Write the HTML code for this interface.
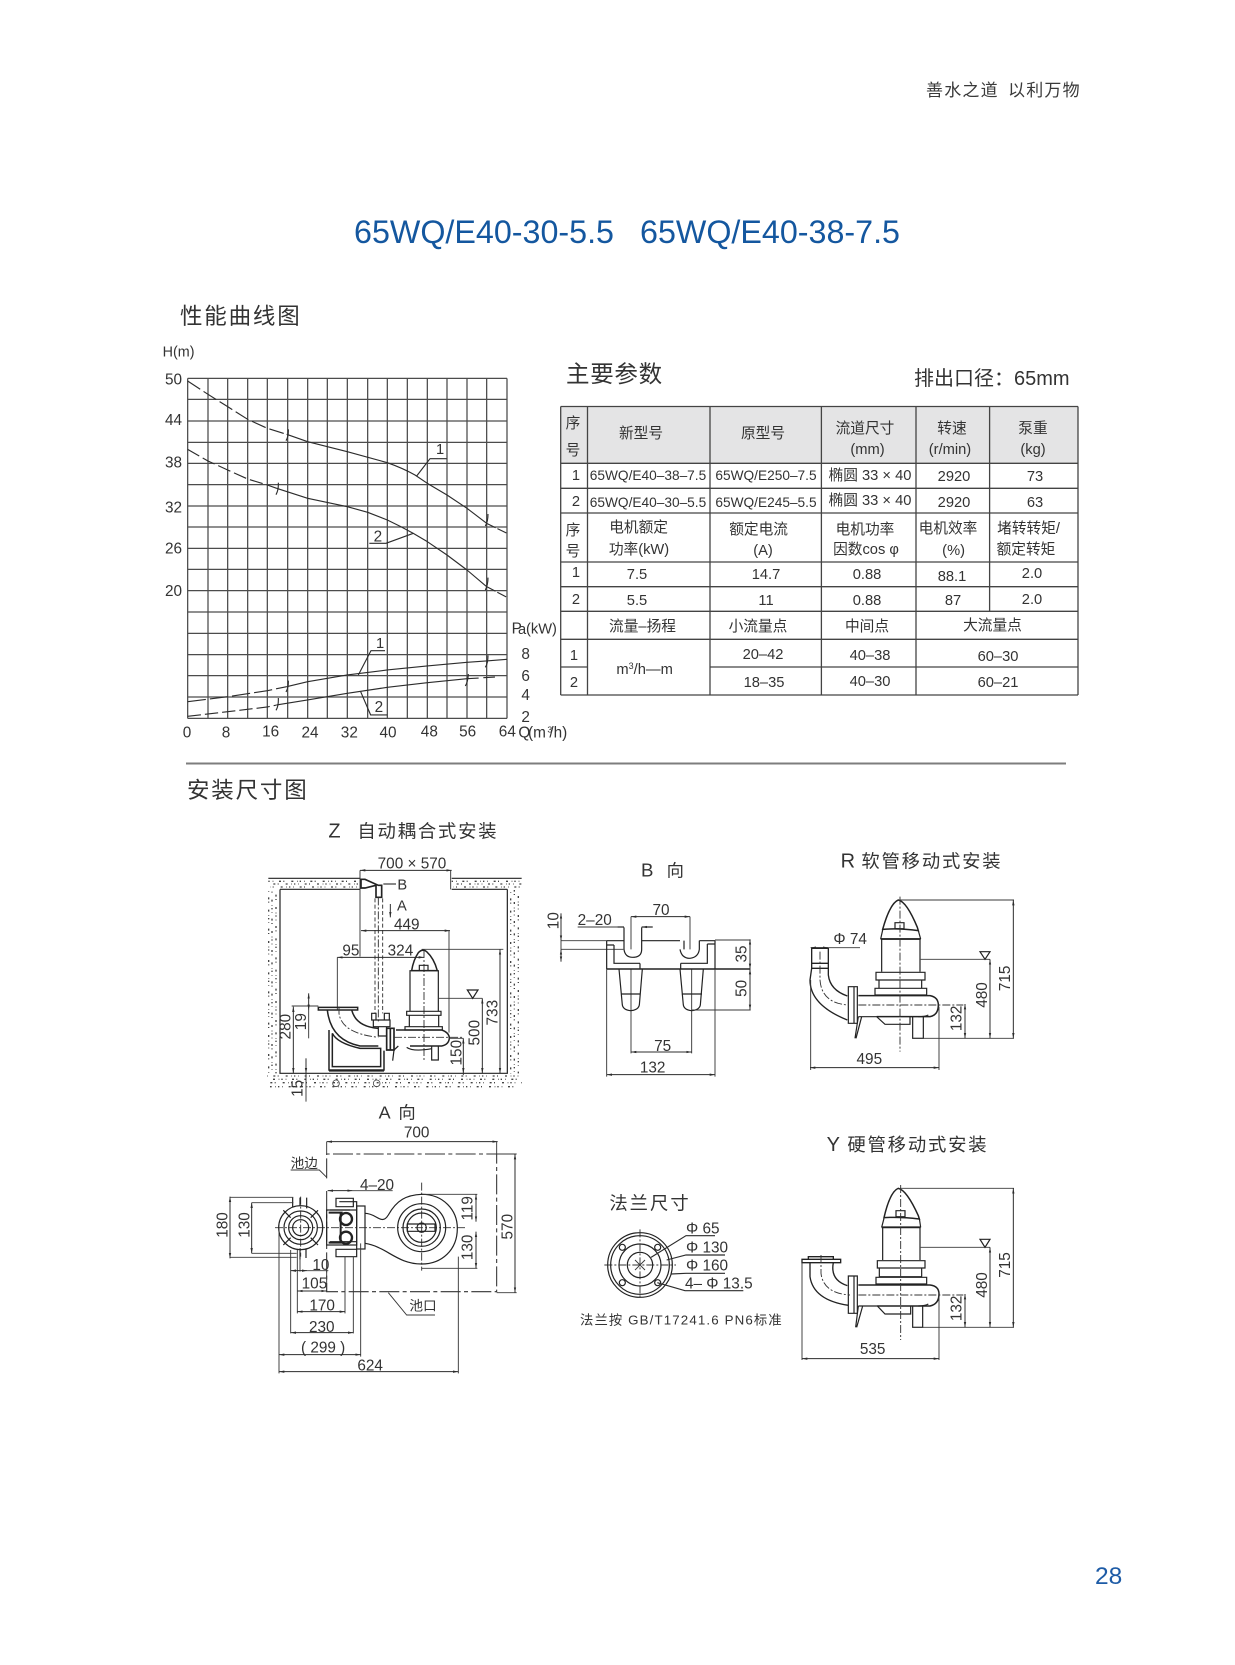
<!DOCTYPE html>
<html><head><meta charset="utf-8">
<style>
html,body{margin:0;padding:0;background:#fff;width:1235px;height:1665px;overflow:hidden}
svg{display:block}
text{font-family:"Liberation Sans","Noto Sans CJK SC",sans-serif;fill:#333}
.z text{font-size:46px}
.g{fill:none;stroke:#4c4c4c;stroke-width:3.8}
.c{fill:none;stroke:#2c2c2c;stroke-width:3.4}
.o{fill:none;stroke:#222;stroke-width:3.6}
.t{fill:none;stroke:#222;stroke-width:5.5}
.f{fill:none;stroke:#444;stroke-width:2.4}
.dash{fill:none;stroke:#333;stroke-width:2.8;stroke-dasharray:24 6 6 6}
.hid{fill:none;stroke:#333;stroke-width:2.8;stroke-dasharray:12 7}
.d{fill:none;stroke:#2c2c2c;stroke-width:3;marker-start:url(#a);marker-end:url(#a)}
.e{fill:none;stroke:#383838;stroke-width:2.8}
.sp{fill:none;stroke:#444;stroke-width:4;stroke-dasharray:4 9 2 17 6 7 3 21 6 11 2 6}
.h text{font-size:55px;letter-spacing:5.500px}
.tb text{font-size:14.700px;text-anchor:middle}
.tb .m{font-size:13.700px}
</style></head>
<body>
<svg width="1235" height="1665" viewBox="0 0 1235 1665" xmlns="http://www.w3.org/2000/svg">
<defs>
<marker id="a" markerUnits="userSpaceOnUse" markerWidth="18" markerHeight="10" refX="16" refY="5" orient="auto-start-reverse"><path d="M0 1.500L16 5L0 8.500z" fill="#2c2c2c"/></marker>
</defs>

<text x="926" y="96" style="font-size:17px;letter-spacing:1.200px;fill:#3a3a3a">善水之道</text>
<text x="1008" y="96" style="font-size:17px;letter-spacing:1.200px;fill:#3a3a3a">以利万物</text>
<text x="354" y="243" textLength="260" lengthAdjust="spacingAndGlyphs" style="font-size:32px;fill:#14579f">65WQ/E40-30-5.5</text>
<text x="640" y="243" textLength="260" lengthAdjust="spacingAndGlyphs" style="font-size:32px;fill:#14579f">65WQ/E40-38-7.5</text>
<text x="180" y="324" style="font-size:22.500px;letter-spacing:1.800px">性能曲线图</text>
<text x="566" y="382" style="font-size:23.500px;letter-spacing:.7px">主要参数</text>
<text x="914" y="385" style="font-size:20px">排出口径：65mm</text>
<line x1="186" y1="763.500" x2="1066" y2="763.500" stroke="#7d7d7d" stroke-width="2"/>
<text x="187" y="798" style="font-size:22.500px;letter-spacing:1.800px">安装尺寸图</text>
<text x="1095" y="1584" style="font-size:24.500px;fill:#1d5ba6">28</text>

<!-- chart -->
<g class="z" transform="translate(140,280) scale(.33333)">
<text x="68" y="230" style="font-size:43px">H(m)</text>
<path class="g" d="M143 295V1315M204 295V1315M263 295V1315M323 295V1315M382 295V1315M443 295V1315M503 295V1315M562 295V1315M622 295V1315M683 295V1315M742 295V1315M802 295V1315M862 295V1315M921 295V1315M981 295V1315M1040 295V1315M1101 295V1315"/>
<path class="g" d="M143 295H1101M143 358H1101M143 423H1101M143 487H1101M143 550H1101M143 614H1101M143 678H1101M143 741H1101M143 805H1101M143 868H1101M143 932H1101M143 996H1101M143 1060H1101M143 1124H1101M143 1187H1101M143 1251H1101M143 1315H1101"/>
<g class="c" stroke-linejoin="round">
<path stroke-dasharray="45 12" d="M143 303L204 343L263 380L323 418L382 445L440 463"/>
<path d="M440 463L503 485L622 515L742 548Q790 565 825 585L862 610L921 645L981 685L1040 730"/>
<path stroke-dasharray="30 6" d="M1040 730L1101 760"/>
<path stroke-dasharray="40 12" d="M143 508L204 543L263 570L323 597L382 615L410 625"/>
<path d="M410 625L503 655L622 680L683 697L742 720Q780 738 820 760L862 785L921 825L981 870L1040 920"/>
<path stroke-dasharray="30 6" d="M1040 920L1101 952"/>
<path stroke-dasharray="55 12" d="M143 1265L263 1250L382 1232L440 1220"/>
<path d="M440 1220L503 1205L622 1185L742 1170L862 1158L981 1147L1040 1143L1101 1138"/>
<path stroke-dasharray="40 12" d="M143 1309L263 1295L382 1281L410 1275"/>
<path d="M410 1275L503 1260L622 1240L742 1222L862 1208L981 1196"/>
<path stroke-dasharray="35 14" d="M981 1196L1070 1191"/>
<path d="M438 482Q446 470 445 448M408 644Q416 630 415 608M1036 738Q1044 725 1044 702M1036 930Q1044 915 1044 893M438 1236Q446 1222 445 1202M408 1291Q416 1278 415 1254M1036 1162Q1044 1150 1044 1126M976 1218Q984 1205 985 1182"/>
<path d="M830 588L870 536H920M688 790H738L820 760M655 1185L693 1112H735M662 1235L692 1305H742"/>
</g>
<text x="888" y="522" style="font-size:44px">1</text>
<text x="701" y="785" style="font-size:46px">2</text>
<text x="708" y="1104" style="font-size:44px">1</text>
<text x="704" y="1296" style="font-size:46px">2</text>
<text x="75" y="313">50</text><text x="75" y="435">44</text><text x="75" y="563">38</text><text x="75" y="698">32</text><text x="75" y="821">26</text><text x="75" y="948">20</text>
<text x="1115" y="1060">P</text><text x="1134" y="1062" style="font-size:44px">a</text><text x="1158" y="1060" style="font-size:44px">(kW)</text>
<text x="1144" y="1137">8</text><text x="1144" y="1203">6</text><text x="1144" y="1260">4</text><text x="1144" y="1326">2</text>
<g text-anchor="middle"><text x="141" y="1373">0</text><text x="258" y="1373">8</text><text x="392" y="1370">16</text><text x="510" y="1373">24</text><text x="628" y="1373">32</text><text x="744" y="1373">40</text><text x="868" y="1370">48</text><text x="983" y="1370">56</text><text x="1102" y="1370">64</text></g>
<text x="1135" y="1373">Q</text><text x="1164" y="1373">(m</text><text x="1222" y="1357" style="font-size:26px">3</text><text x="1228" y="1373">/h)</text>
</g>

<!-- table -->
<g>
<rect x="561" y="406.500" width="517" height="57" fill="#e4e4e5"/>
<g fill="none" stroke="#444" stroke-width="1.300">
<path d="M560.700 406.500H1078M560.700 463.300H1078M560.700 488.300H1078M560.700 513H1078M560.700 562H1078M560.700 586.700H1078M560.700 611.300H1078M560.700 639.300H1078M560.700 667H587.500M710 667H1078M560.700 695H1078"/>
<path d="M560.700 406.500V695M587.500 406.500V695M710 406.500V695M821.400 406.500V695M916 406.500V695M989.600 406.500V611.300M1078 406.500V695"/>
</g>
<g class="tb">
<text x="573" y="428">序</text><text x="573" y="455">号</text>
<text x="641" y="438">新型号</text><text x="763" y="438">原型号</text>
<text x="865" y="433">流道尺寸</text><text x="867.500" y="454">(mm)</text>
<text x="952" y="433">转速</text><text x="950" y="454">(r/min)</text>
<text x="1033" y="433">泵重</text><text x="1033" y="454">(kg)</text>
<text x="576" y="480">1</text><text class="m" x="648" y="480">65WQ/E40–38–7.5</text><text class="m" x="766" y="480">65WQ/E250–7.5</text><text x="870" y="480">椭圆 33 × 40</text><text x="954" y="481">2920</text><text x="1035" y="481">73</text>
<text x="576" y="506">2</text><text class="m" x="648" y="507">65WQ/E40–30–5.5</text><text class="m" x="766" y="507">65WQ/E245–5.5</text><text x="870" y="505">椭圆 33 × 40</text><text x="954" y="507">2920</text><text x="1035" y="507">63</text>
<text x="573" y="535">序</text><text x="573" y="556">号</text>
<text x="638.600" y="532">电机额定</text><text x="639" y="554">功率(kW)</text>
<text x="758.600" y="534">额定电流</text><text x="763" y="555">(A)</text>
<text x="865" y="534">电机功率</text><text x="866" y="554">因数cos φ</text>
<text x="948" y="533">电机效率</text><text x="953.600" y="555">(%)</text>
<text x="1028.600" y="533">堵转转矩/</text><text x="1026" y="554">额定转矩</text>
<text x="576" y="577">1</text><text x="637" y="579">7.5</text><text x="766" y="579">14.7</text><text x="867" y="579">0.88</text><text x="952" y="581">88.1</text><text x="1032" y="578">2.0</text>
<text x="576" y="604">2</text><text x="637" y="605">5.5</text><text x="766" y="605">11</text><text x="867" y="605">0.88</text><text x="953" y="605">87</text><text x="1032" y="604">2.0</text>
<text x="642.500" y="631">流量–扬程</text><text x="758" y="631">小流量点</text><text x="867" y="631">中间点</text><text x="992.500" y="630">大流量点</text>
<text x="574" y="660">1</text><text x="763" y="659">20–42</text><text x="870" y="660">40–38</text><text x="998" y="661">60–30</text>
<text x="574" y="687">2</text><text x="764" y="687">18–35</text><text x="870" y="686">40–30</text><text x="998" y="687">60–21</text>
<text x="644.600" y="674">m<tspan dy="-5" style="font-size:9px">3</tspan><tspan dy="5">/h—m</tspan></text>
</g>
</g>

<!-- Z -->
<g class="z" transform="translate(250,810) scale(.33333)">
<g class="h"><text x="235" y="83" style="font-size:60px">Z</text><text x="322" y="83">自动耦合式安装</text></g>
<path class="sp" d="M55 214H330M605 214H815"/><path class="sp" stroke-dashoffset="22" d="M60 222H330M610 222H815"/><path class="sp" stroke-dashoffset="37" d="M60 231H330M610 231H815"/>
<path class="sp" stroke-dashoffset="10" d="M56 240V790"/><path class="sp" stroke-dashoffset="40" d="M66 240V790"/><path class="sp" stroke-dashoffset="18" d="M78 240V790"/>
<path class="sp" stroke-dashoffset="7" d="M782 240V790"/><path class="sp" stroke-dashoffset="33" d="M793 240V790"/><path class="sp" stroke-dashoffset="51" d="M805 240V790"/>
<path class="sp" stroke-dashoffset="12" d="M50 798H815"/><path class="sp" stroke-dashoffset="55" d="M55 808H815"/><path class="sp" stroke-dashoffset="26" d="M55 818H815"/><path class="sp" stroke-dashoffset="70" d="M60 830H800"/>
<path class="o" d="M55 205H330M605 205H815M90 238H330M605 238H772M90 238V790H772V238"/>
<path class="d" d="M330 181H605"/>
<text x="383" y="176">700 × 570</text>
<path class="e" d="M330 181V440M602 181V238"/>
<path class="o" style="stroke-width:5" d="M333 208H345L385 226H395V262H378V226L345 234H333z"/>
<path class="c" d="M400 222H438"/><text x="442" y="238" style="font-size:44px">B</text>
<path class="hid" d="M375 265V610M398 265V610"/><path class="dash" d="M385 262V640"/>
<path class="d" style="marker-start:none" d="M421 282V322"/><text x="441" y="302" style="font-size:44px">A</text>
<path class="d" d="M333 362H600"/><text x="432" y="358">449</text>
<path class="e" d="M597 362V668M262 442V600"/>
<path class="d" d="M262 442H522"/><text x="277" y="436">95</text><text x="413" y="436">324</text>
<path class="dash" d="M522 420V752"/>
<path class="t" style="stroke-width:4.500" d="M485 482Q490 450 505 428Q518 415 530 425Q552 445 562 482Z"/>
<path class="o" d="M508 466H534V482H508ZM480 482H565V604H480ZM470 604H573V616H470ZM478 616H566V650H478ZM465 650H577V660H465Z"/>
<path class="o" style="stroke-width:4.500" d="M438 660H575Q598 668 598 685Q596 704 575 708H480"/>
<path class="o" d="M432 720L445 708M470 712Q490 726 545 716M545 708V750H565V708M432 720L428 752"/>
<path class="o" style="stroke-width:5" d="M410 655H432V720H410ZM421 655V720"/>
<path class="o" d="M370 630H420V650H370ZM365 610H378V630H365ZM403 610H418V630H403ZM385 650H410V678H385Z"/>
<path class="t" style="stroke-width:4.500" d="M205 592H323V600H205Z"/>
<path class="t" style="stroke-width:4.500" d="M232 600Q242 690 330 708H385M305 600Q318 650 385 655"/>
<path class="dash" d="M267 590V610Q275 670 385 682M432 682H640"/>
<path class="t" style="stroke-width:4.500" d="M237 660V780H402V722M247 670Q262 700 330 715H392V770H247Z"/>
<path class="t" d="M237 782H402"/>
<circle cx="258" cy="820" r="10" class="f"/><circle cx="380" cy="820" r="10" class="f"/>
<path class="d" d="M130 590V790"/><text transform="rotate(-90 122 650)" x="122" y="650" text-anchor="middle">280</text>
<path class="e" d="M125 588H205"/>
<path class="d" d="M176 550V600"/><path class="e" d="M176 600V685"/><text transform="rotate(-90 168 635)" x="168" y="635" text-anchor="middle">19</text>
<path class="d" style="marker-start:none" d="M168 745V790"/><path class="e" d="M168 790V875"/><text transform="rotate(-90 158 835)" x="158" y="835" text-anchor="middle">15</text>
<path class="d" d="M640 685V790"/><text transform="rotate(-90 634 728)" x="634" y="728" text-anchor="middle">150</text>
<path class="d" d="M697 565V790"/><text transform="rotate(-90 688 668)" x="688" y="668" text-anchor="middle">500</text>
<path class="d" d="M750 418V790"/><text transform="rotate(-90 742 608)" x="742" y="608" text-anchor="middle">733</text>
<path class="e" d="M565 565H697M515 418H760M640 685H598M640 790V795"/>
<path class="o" d="M652 540H684L668 565Z"/>
<text x="386" y="925" style="font-size:54px">A</text><text x="445" y="925" style="font-size:52px">向</text>
</g>

<!-- A view -->
<g class="z" transform="translate(200,1100) scale(.33333)">
<path class="d" d="M380 125H893"/><text x="650" y="112" text-anchor="middle">700</text>
<path class="dash" style="stroke-dasharray:60 10 12 10;stroke-width:3.200" d="M380 235V162H890V575H380V272"/>
<path class="e" d="M380 125V162M890 125V162M890 162H950M890 578H950"/>
<path class="d" d="M945 162V578"/><text transform="rotate(-90 938 380)" x="938" y="380" text-anchor="middle">570</text>
<text x="272" y="204" style="font-size:41px">池边</text><path class="e" d="M272 210H358L380 232"/>
<text x="628" y="632" style="font-size:41px">池口</text><path class="e" d="M565 578L620 645H705"/>
<text x="480" y="270">4–20</text><path class="d" d="M383 272H458"/><path class="e" d="M458 272H578"/>
<path class="dash" d="M225 383H800"/><path class="dash" d="M302 290V470M665 248V512"/>
<g class="o">
<circle cx="302" cy="383" r="66"/><circle cx="302" cy="383" r="50"/><circle cx="302" cy="383" r="36"/><circle cx="302" cy="383" r="24"/>
<path d="M250 331L272 353M354 331L332 353M250 435L272 413M354 435L332 413"/>
<path d="M278 293V322M300 293V318M320 293V325M300 445V478M318 445V474"/>
<rect x="380" y="330" width="90" height="105"/>
<rect x="470" y="318" width="25" height="129"/>
<path d="M408 295H460V320H408ZM408 448H470V470H408ZM418 305H470V330M390 330H450M390 425H470"/>
<path style="stroke-width:6" d="M386 338H428M386 428H428M422 338V428"/>
<circle cx="438" cy="357" r="18" style="stroke-width:7"/><circle cx="438" cy="413" r="18" style="stroke-width:7"/>
<path d="M495 340C530 340 545 378 565 345C590 300 620 285 665 283C730 283 772 330 772 385C772 450 725 492 665 492C590 492 560 440 495 430"/>
<circle cx="665" cy="383" r="72"/><circle cx="665" cy="383" r="56"/><circle cx="665" cy="383" r="44"/><circle cx="665" cy="383" r="14"/>
<path d="M622 372H705V394H622Z"/>
</g>
<path class="e" d="M90 292H280M155 308H280M155 460H290M90 472H290M665 283H832M665 505H832"/>
<path class="d" d="M90 290V475"/><text transform="rotate(-90 82 375)" x="82" y="375" text-anchor="middle">180</text>
<path class="d" d="M155 308V460"/><text transform="rotate(-90 148 375)" x="148" y="375" text-anchor="middle">130</text>
<path class="d" d="M828 283V365"/><text transform="rotate(-90 818 325)" x="818" y="325" text-anchor="middle">119</text>
<path class="d" d="M828 395V505"/><text transform="rotate(-90 818 442)" x="818" y="442" text-anchor="middle">130</text>
<path class="e" d="M237 383V820M272 450V700M292 450V640M300 450V515M435 470V640M460 470V700M482 430V770M775 470V820M380 515V575"/>
<text x="337" y="510">10</text><path class="d" d="M272 512H322"/><path class="e" d="M322 512H385"/>
<text x="305" y="566">105</text><path class="d" d="M292 573H380"/>
<text x="328" y="632">170</text><path class="d" d="M292 635H435"/>
<text x="327" y="696">230</text><path class="d" d="M272 698H460"/>
<text x="303" y="758">( 299 )</text><path class="d" d="M237 764H482"/>
<text x="472" y="812">624</text><path class="d" d="M237 815H775"/>
</g>

<!-- B view -->
<g class="z" transform="translate(540,850) scale(.33333)">
<text x="303" y="79" style="font-size:56px">B</text><text x="380" y="79" style="font-size:52px">向</text>
<path class="d" d="M63 190V272"/><path class="d" d="M63 335V298"/><path class="e" d="M63 272V298M63 272H200M63 298H250"/>
<text transform="rotate(-90 55 212)" x="55" y="212" text-anchor="middle">10</text>
<text x="113" y="225">2–20</text><path class="e" d="M113 231H232M318 231H338"/>
<path class="c" d="M232 231H252M338 231H305" marker-end="url(#a)"/>
<text x="363" y="195" text-anchor="middle">70</text><path class="d" d="M273 200H450"/>
<path class="e" d="M273 200V298M450 200V298M273 357V610M455 357V610"/>
<path class="o" d="M200 272H252M305 272H420M478 272H525M252 232V298Q255 322 278 322Q305 322 305 298V232M420 298Q425 325 450 325Q475 322 478 298V272M432 272V298"/>
<path class="o" d="M200 272V357M525 272V357M222 285H200M222 285V340H300M502 282H525M502 282V340H422M300 340V357M422 340V357"/>
<path class="t" style="stroke-width:4.500" d="M200 357H630"/>
<path class="o" d="M237 357L247 465Q250 480 272 482Q295 480 298 465L307 357M243 432H302M420 357L430 465Q433 480 455 482Q478 480 481 465L490 357M425 432H486"/>
<path class="d" d="M630 268V357"/><text transform="rotate(-90 620 312)" x="620" y="312" text-anchor="middle">35</text>
<path class="d" d="M630 357V480"/><text transform="rotate(-90 620 415)" x="620" y="415" text-anchor="middle">50</text>
<path class="e" d="M525 270H632M455 480H632"/>
<text x="368" y="603" text-anchor="middle">75</text><path class="d" d="M273 606H455"/>
<text x="338" y="668" text-anchor="middle">132</text><path class="d" d="M200 674H525"/>
<path class="e" d="M200 357V680M525 357V680"/>
</g>

<!-- R view -->
<g class="z" transform="translate(790,840) scale(.33333)">
<g class="h"><text x="152" y="83" style="font-size:60px">R</text><text x="214" y="83">软管移动式安装</text></g>
<path class="t" style="stroke-width:4.500" d="M278 268Q300 190 325 180Q350 185 382 262L385 272Q330 264 278 268Z"/>
<path class="o" d="M315 248H342V266H315ZM272 297H392M278 270L272 297M385 272L392 297"/><path class="t" d="M272 297H392"/>
<path class="o" d="M275 297V395M390 297V395M258 397H405V420H258ZM267 420H395V445H267ZM255 445H410V465H255Z"/>
<path class="t" style="stroke-width:4.500" d="M205 467H420Q445 472 445 495Q445 525 420 530H260"/>
<path class="o" d="M205 530H260L285 553H360V530M368 530V595H400V530M385 530Q405 530 415 525"/>
<path class="o" d="M175 440H192V550H175ZM192 440H202V550H192ZM205 530L195 595M215 530L198 595"/>
<path class="t" style="stroke-width:4" d="M65 325H115V370H65ZM65 370H115V385H65ZM65 385L60 420Q60 495 172 540M115 385V405Q120 450 172 468"/>
<path class="dash" d="M330 170V635M90 335V420Q95 490 175 495M205 495H520"/>
<text x="130" y="312">Φ 74</text>
<path class="e" d="M115 323H210"/><path class="d" d="M62 323H115"/>
<path class="e" d="M62 420V690M447 500V690M330 180H672M392 358H600M368 595H672"/>
<path class="o" d="M570 335H600L585 358Z"/>
<path class="d" d="M525 492V595"/><text transform="rotate(-90 514 535)" x="514" y="535" text-anchor="middle">132</text>
<path class="d" d="M600 358V595"/><text transform="rotate(-90 591 465)" x="591" y="465" text-anchor="middle">480</text>
<path class="d" d="M670 180V595"/><text transform="rotate(-90 660 415)" x="660" y="415" text-anchor="middle">715</text>
<path class="d" d="M60 683H447"/><text x="238" y="672" text-anchor="middle">495</text>
</g>

<!-- Y view -->
<g class="z" transform="translate(790,1120) scale(.33333)">
<g class="h"><text x="110" y="93" style="font-size:60px">Y</text><text x="172" y="93">硬管移动式安装</text></g>
<path class="t" style="stroke-width:4.500" d="M282 293Q300 215 325 205Q350 210 385 287L388 297Q330 290 282 293Z"/>
<path class="o" d="M318 272H345V290H318ZM275 322H392M282 295L275 322M388 295L392 322"/><path class="t" d="M275 322H392"/>
<path class="o" d="M278 322V420M390 322V420M262 422H405V444H262ZM268 444H395V470H268ZM258 472H410V492H258Z"/>
<path class="t" style="stroke-width:4.500" d="M205 495H420Q447 498 447 522Q447 552 420 558H262"/>
<path class="o" d="M205 558H262L285 582H362V558M368 558V622H398V558M385 558Q405 558 415 552"/>
<path class="o" d="M175 468H192V580H175ZM192 468H202V580H192ZM205 558L197 622M218 558L200 622"/>
<path class="t" style="stroke-width:4" d="M36 428V418H152V428ZM55 418V410H130V418ZM60 428V470Q70 540 175 556M130 428Q120 480 172 497"/>
<path class="dash" d="M332 195V660M93 405V460Q100 520 180 525M205 525H520"/>
<path class="e" d="M36 428V720M447 530V720M330 205H672M392 382H600M368 622H672"/>
<path class="o" d="M570 358H600L585 382Z"/>
<path class="d" d="M525 522V622"/><text transform="rotate(-90 514 565)" x="514" y="565" text-anchor="middle">132</text>
<path class="d" d="M600 382V622"/><text transform="rotate(-90 591 495)" x="591" y="495" text-anchor="middle">480</text>
<path class="d" d="M670 205V622"/><text transform="rotate(-90 660 435)" x="660" y="435" text-anchor="middle">715</text>
<path class="d" d="M36 716H447"/><text x="248" y="702" text-anchor="middle">535</text>
</g>

<!-- Flange -->
<g class="z" transform="translate(570,1170) scale(.33333)">
<g class="h"><text x="118" y="118" style="letter-spacing:6px">法兰尺寸</text></g>
<g class="o">
<circle cx="210" cy="285" r="97"/><circle cx="210" cy="285" r="88"/><circle cx="210" cy="285" r="63"/><circle cx="210" cy="285" r="38"/>
<circle cx="157" cy="232" r="9"/><circle cx="263" cy="232" r="9"/><circle cx="157" cy="338" r="9"/><circle cx="263" cy="338" r="9"/>
</g>
<path class="dash" d="M103 285H318M210 178V385"/>
<path class="e" d="M195 270L225 300M225 270L195 300"/>
<path class="c" d="M243 262L348 197H435M290 270L348 255H465M303 312L348 310H465M262 338L345 362H520"/>
<text x="348" y="190">Φ 65</text>
<text x="348" y="248">Φ 130</text>
<text x="348" y="302">Φ 160</text>
<text x="345" y="355">4– Φ 13.5</text>
<text x="30" y="463" textLength="605" style="font-size:40px">法兰按 GB/T17241.6 PN6标准</text>
</g>
</svg>
</body></html>
